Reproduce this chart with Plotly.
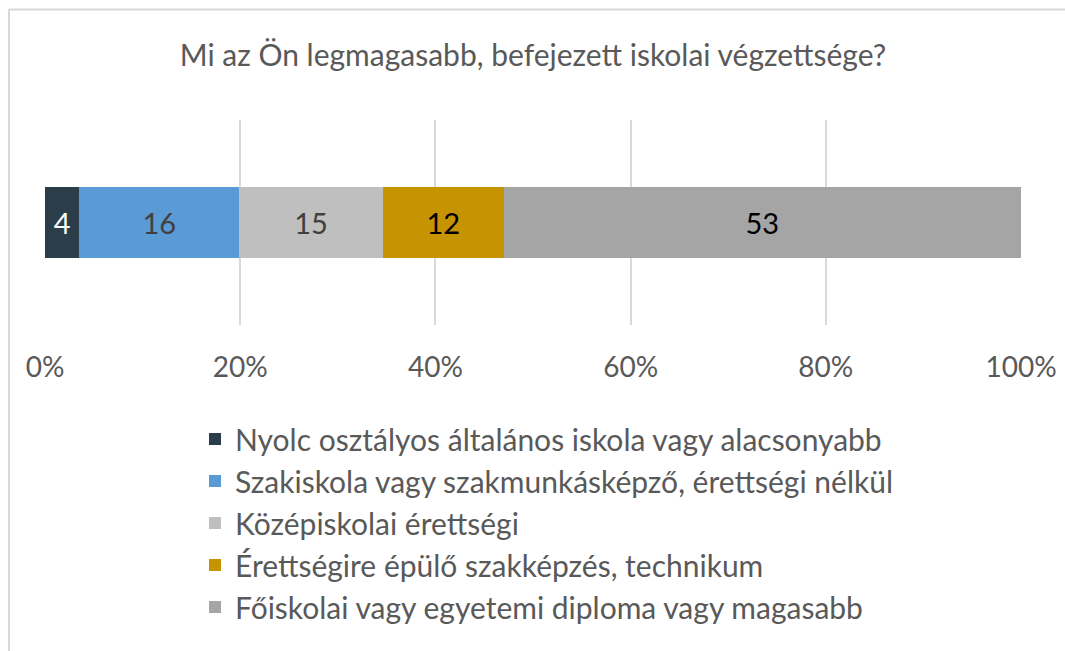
import plotly.graph_objects as go

categories = ["Nyolc osztályos általános iskola vagy alacsonyabb",
              "Szakiskola vagy szakmunkásképző, érettségi nélkül",
              "Középiskolai érettségi",
              "Érettségire épülő szakképzés, technikum",
              "Főiskolai vagy egyetemi diploma vagy magasabb"]
values = [3.5, 16.4, 14.7, 12.4, 53.0]
colors = ["#2B3D48", "#5B9BD5", "#BFBFBF", "#C59400", "#A5A5A5"]
label_colors = ["#FFFFFF", "#404040", "#404040", "#000000", "#000000"]
tick_vals = [0, 20, 40, 60, 80, 100]
tick_text = ["0%", "20%", "40%", "60%", "80%", "100%"]
title = "Mi az Ön legmagasabb, befejezett iskolai végzettsége?"

FONT = "Lato"
W, H = 1065, 651
# plot area in page coordinates
PX0, PX1, PY0, PY1 = 45, 1021, 120, 325
L, R, T, B = PX0, W - PX1, PY0, H - PY1
pw, ph = PX1 - PX0, PY1 - PY0

def px(x):
    return (x - PX0) / pw

def py(y):
    return (PY1 - y) / ph

fig = go.Figure()
for i, (c, v) in enumerate(zip(categories, values)):
    fig.add_trace(go.Bar(
        x=[v], y=["q"], orientation="h", name=c,
        marker=dict(color=colors[i], line=dict(width=0)),
        texttemplate="%{x:.0f}", textposition="inside", insidetextanchor="middle",
        textfont=dict(family=FONT, size=29, color=label_colors[i]),
        legendgroup=f"g{i}", width=0.35, hoverinfo="skip",
    ))

fig.update_layout(
    width=W, height=H,
    margin=dict(l=L, r=R, t=T, b=B, autoexpand=False),
    barmode="stack",
    paper_bgcolor="white", plot_bgcolor="white",
    title=dict(text=title, x=0.5, xref="paper", xanchor="center",
               y=1 - 55 / H, yanchor="middle",
               font=dict(family=FONT, size=30, color="#595959")),
    xaxis=dict(range=[0, 100], tickvals=tick_vals, ticktext=tick_text,
               showgrid=True, gridcolor="#D9D9D9", gridwidth=2,
               zeroline=False, showline=False, ticks="",
               ticklabelstandoff=23,
               tickfont=dict(family=FONT, size=28, color="#595959")),
    yaxis=dict(showticklabels=False, showgrid=False, zeroline=False,
               range=[-0.5, 0.5]),
    showlegend=True,
    legend=dict(orientation="v", xref="container", yref="container",
                x=195 / W, y=1 - 413 / H, xanchor="left", yanchor="top",
                traceorder="grouped", tracegroupgap=0,
                font=dict(family=FONT, size=30, color="#595959"),
                bgcolor="rgba(0,0,0,0)"),
)

fig.add_shape(type="line", xref="paper", yref="paper",
              x0=px(9), x1=px(9), y0=py(9), y1=py(660),
              line=dict(color="#D9D9D9", width=2))
fig.add_shape(type="line", xref="paper", yref="paper",
              x0=px(9), x1=px(1070), y0=py(9.5), y1=py(9.5),
              line=dict(color="#D9D9D9", width=2))

fig.write_html("out.html", config={"displayModeBar": False},
               post_script="document.body.style.margin='0';document.body.style.overflow='hidden';")
